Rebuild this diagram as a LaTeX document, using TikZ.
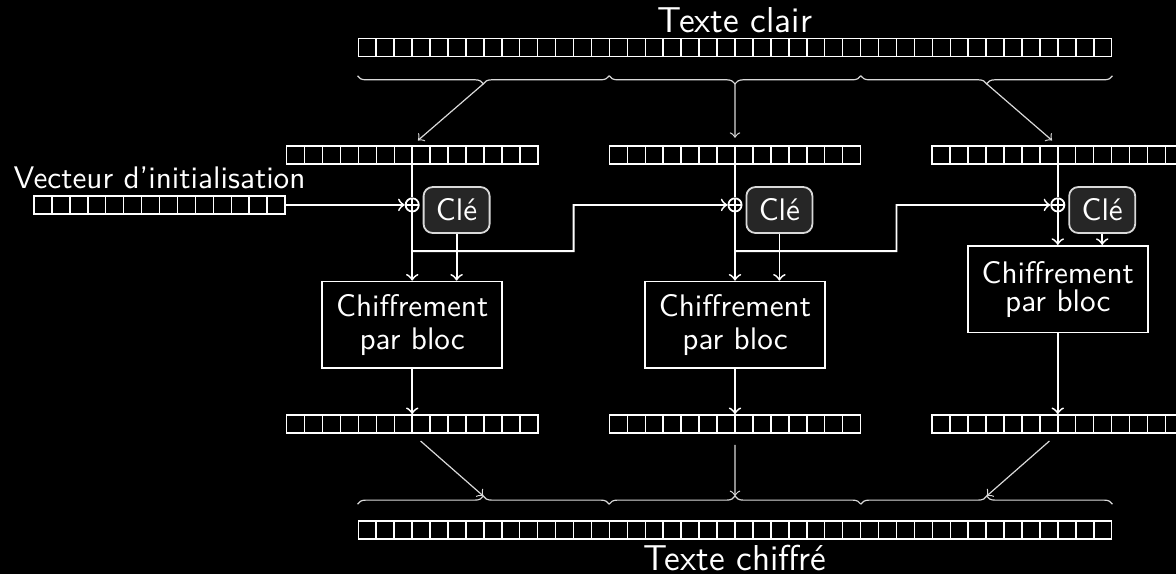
\documentclass[tikz,border=0pt]{standalone}
\usepackage{fontspec}
\usetikzlibrary{positioning,calc,decorations.pathreplacing}

\newcommand\cellw{5.98pt}
\newcommand\textetaille{\sffamily\fontsize{10.4pt}{12.5pt}\selectfont}
\tikzset{
  bloc/.style={draw, line width=0.5pt, inner sep=0pt, minimum height=6pt,
    minimum width=#1*\cellw,
    path picture={\foreach \i in {1,...,#1}
      \draw ([xshift=\i*\cellw]path picture bounding box.south west)
         -- ([xshift=\i*\cellw]path picture bounding box.north west);}},
  xor/.style={draw, circle, inner sep=0pt, minimum size=4.4pt,
    path picture={\draw (path picture bounding box.west) -- (path picture bounding box.east)
       (path picture bounding box.north) -- (path picture bounding box.south);}},
  cle/.style={draw=white!85!black, fill=white!15!black, rounded corners=3pt,
    minimum width=22pt, minimum height=15.3pt, inner sep=1pt},
  chiffr/.style={draw, align=center, minimum width=60pt, minimum height=28.9pt},
  accolade/.style={decorate, thin, white!85!black, decoration={brace, amplitude=2.7pt}},
  fin/.style={->, thin, white!85!black},
}

\begin{document}
\begin{tikzpicture}[white, font=\textetaille, on grid, node distance=107.6pt, >=to, semithick]
\fill[black, use as bounding box] (0,0) rectangle (392pt,-191.33pt);

% texte clair et texte chiffre
\node[bloc=42] (clair) at (245pt,-15.8pt) {};
\node[anchor=base, font=\sffamily\large] (tclair) at ([yshift=1.7pt]clair.north) {Texte clair};
\node[bloc=42, below=160.9pt of clair] (chiffre) {};
\node[anchor=base, font=\sffamily\large] (tchiffre) at ([yshift=-10.3pt]chiffre.south) {Texte chiffré};

% blocs d'entree
\node[bloc=14, below=35.9pt of clair] (m2) {};
\node[bloc=14, left=of m2] (m1) {};
\node[bloc=14, right=of m2] (m3) {};

\foreach \i in {1,2,3} {
  \node[xor, below=16.6pt of m\i] (x\i) {};
  \node[cle, below right=1.7pt and 14.8pt of x\i] (k\i) {Clé};
  \node[bloc=14, below=89.6pt of m\i] (s\i) {};
}
\node[chiffr, below=40pt of x1] (b1) {Chiffrement\\[-1.5pt]par bloc};
\node[chiffr, below=40pt of x2] (b2) {Chiffrement\\[-1.5pt]par bloc};
\node[chiffr, below=28.1pt of x3] (b3) {Chiffrement\\[-3.3pt]par bloc};

% vecteur d'initialisation
\node[bloc=14, anchor=east] (iv) at (m1.west |- x1) {};
\node[anchor=base] (tiv) at ([yshift=2.3pt]iv.north) {Vecteur d’initialisation};

% accolades
\foreach \k in {1,2,3} {
  \draw[accolade, decoration={mirror}]
    ($(clair.south west)!\k/3-1/3!(clair.south east)+(0,-6.2pt)$) --
    ($(clair.south west)!\k/3!(clair.south east)+(0,-6.2pt)$);
  \coordinate (h\k) at ($(clair.south west)!\k/3-1/6!(clair.south east)+(0,-8.9pt)$);
  \draw[accolade]
    ($(chiffre.north west)!\k/3-1/3!(chiffre.north east)+(0,5.4pt)$) --
    ($(chiffre.north west)!\k/3!(chiffre.north east)+(0,5.4pt)$);
  \coordinate (l\k) at ($(chiffre.north west)!\k/3-1/6!(chiffre.north east)+(0,8.1pt)$);
  \draw[fin, shorten >=2.5pt] (h\k) -- (m\k.north);
  \draw[fin, shorten <=3.7pt] (s\k.south) -- (l\k);
}

% chiffrement
\foreach \i in {1,2,3} {
  \draw (m\i.south) -- (x\i);
  \draw[->] (x\i) -- (b\i);
  \draw[->] (k\i) -- (k\i |- b\i.north);
  \draw[->] (b\i) -- (s\i);
}
\draw[->] (iv) -- (x1);

% chainage
\coordinate[below=15.4pt of x1] (j1);
\coordinate[below=15.4pt of x2] (j2);
\coordinate (c12) at ($(x1)!.5!(x2)$);
\coordinate (c23) at ($(x2)!.5!(x3)$);
\draw[->] (j1) -| (c12) -- (x2);
\draw[->] (j2) -| (c23) -- (x3);
\end{tikzpicture}
\end{document}
